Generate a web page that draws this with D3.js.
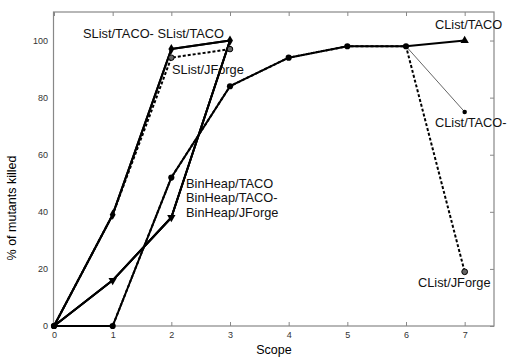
<!DOCTYPE html>
<html><head><meta charset="utf-8">
<script src="https://cdn.jsdelivr.net/npm/d3@7"></script>
<style>body{margin:0;background:#fff}svg{display:block}text{font-family:"Liberation Sans",Arial,sans-serif}</style>
</head><body><svg id="c" width="508" height="363"></svg>
<script>
const scopes = [0,1,2,3,4,5,6,7];
const xTicks = [0,1,2,3,4,5,6,7];
const yTicks = [0,20,40,60,80,100];
const slistTaco      = [0,39,97,100];
const slistTacoMinus = [0,39,97,100];
const slistJForge    = [0,39,94,97];
const binheapTaco      = [0,16,38,100];
const binheapTacoMinus = [0,16,38,100];
const binheapJForge    = [0,16,38,100];
const clistTaco      = [0,0,52,84,94,98,98,100];
const clistTacoMinus = [0,0,52,84,94,98,98,75];
const clistJForge    = [0,0,52,84,94,98,98,19];

const W=508,H=363, m={l:54,r:14,t:12,b:37};
const svg=d3.select("#c");
const x=d3.scaleLinear().domain([0,7.5]).range([m.l,W-m.r]);
const y=d3.scaleLinear().domain([0,110]).range([H-m.b,m.t]);
const axisCol="#888";

svg.append("rect").attr("x",x(0)-0.5).attr("y",y(110)).attr("width",x(7.5)-x(0)+0.5).attr("height",y(0)-y(110))
  .attr("fill","none").attr("stroke",axisCol).attr("stroke-width",1.2);

const gb=svg.append("g").attr("transform",`translate(0,${y(0)})`)
  .call(d3.axisBottom(x).tickValues(xTicks).tickSize(-4).tickPadding(6).tickFormat(d3.format("d")));
const gt=svg.append("g").attr("transform",`translate(0,${y(110)})`)
  .call(d3.axisTop(x).tickValues(xTicks).tickSize(-4).tickFormat(""));
const gr=svg.append("g").attr("transform",`translate(${x(7.5)},0)`)
  .call(d3.axisRight(y).tickValues(yTicks).tickSize(-4).tickFormat(""));
const gl=svg.append("g").attr("transform",`translate(${x(0)},0)`)
  .call(d3.axisLeft(y).tickValues(yTicks).tickSize(0).tickPadding(6));
[gb,gt,gr,gl].forEach(g=>{g.select(".domain").remove();g.selectAll("line").attr("stroke",axisCol);
  g.selectAll("text").attr("font-size",9).attr("fill","#333").attr("font-family","'Liberation Sans',Arial,sans-serif");});

svg.append("text").attr("x",x(3.75)).attr("y",354).attr("text-anchor","middle").attr("font-size",12.5).text("Scope");
svg.append("text").attr("transform",`translate(16,208) rotate(-90)`).attr("text-anchor","middle").attr("font-size",12.5).text("% of mutants killed");

const line=d3.line().x((d,i)=>x(scopes[i])).y(d=>y(d));
function series(vals,opt){
  svg.append("path").datum(vals).attr("d",line).attr("fill","none")
    .attr("stroke",opt.color||"#000").attr("stroke-width",opt.w||2)
    .attr("stroke-dasharray",opt.dash||null).attr("stroke-linejoin","round");
}
function marks(vals,idx,type,size,fill,stroke){
  idx.forEach(i=>{
    svg.append("path").attr("d",d3.symbol().type(type).size(size)())
      .attr("transform",`translate(${x(scopes[i])},${y(vals[i])})${type===d3.symbolTriangle&&fill==="down"?" rotate(180)":""}`)
      .attr("fill",fill==="down"?"#000":fill).attr("stroke",stroke||"none").attr("stroke-width",1);
  });
}
series(clistJForge,{dash:"3,2",w:2});
series(clistTacoMinus,{w:1,color:"#666"});
series(clistTaco,{w:2});
series(slistJForge,{dash:"3,2",w:2});
series(slistTacoMinus,{w:2});
series(slistTaco,{w:2});
series(binheapJForge,{w:2});
series(binheapTacoMinus,{w:2});
series(binheapTaco,{w:2});

marks(clistTaco,[0,1,2,3,4,5,6],d3.symbolCircle,30,"#000");
marks(clistTaco,[7],d3.symbolTriangle,30,"#000");
marks(clistTacoMinus,[7],d3.symbolCircle,16,"#000");
marks(clistJForge,[7],d3.symbolCircle,26,"#666","#000");
marks(slistTaco,[1,2,3],d3.symbolDiamond,30,"#000");
marks(slistJForge,[2,3],d3.symbolCircle,24,"#666","#000");
marks(binheapTaco,[1,2],d3.symbolTriangle,30,"down");
marks(binheapTaco,[0],d3.symbolCircle,30,"#000");

function label(t,px,py){
  svg.append("text").attr("x",px).attr("y",py).attr("font-size",12.8).attr("fill","#111").text(t);
}
label("SList/TACO- SList/TACO",83,38);
label("SList/JForge",172,74);
label("BinHeap/TACO",186,188);
label("BinHeap/TACO-",186,202);
label("BinHeap/JForge",186,217);
label("CList/TACO",435,29);
label("CList/TACO-",435,127);
label("CList/JForge",418,287);
</script></body></html>
